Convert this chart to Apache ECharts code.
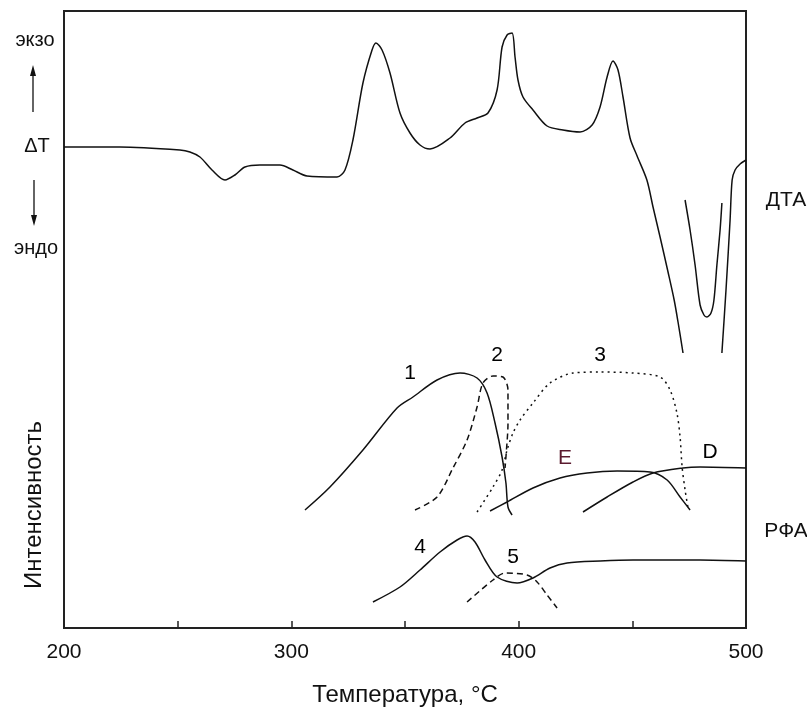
<!DOCTYPE html>
<html><head><meta charset="utf-8">
<script src="https://cdn.jsdelivr.net/npm/echarts@6/dist/echarts.min.js"></script>
<style>html,body{margin:0;padding:0;background:#fff}#c{width:807px;height:713px}</style>
</head><body><div id="c"></div>
<script>
// Temperature (°C), signal (arbitrary units)
const xTicks = [200, 300, 400, 500];
const dta1 = [[200,481],[224.6,481],[251,478],[255.4,476],[259.8,471],[265.1,458],[270.8,448],[275.2,453],[279.6,461],[286.2,463],[295,463],[300.7,458],[306.9,452],[320.1,451],[323.6,458],[327.1,488],[331.5,545],[335.5,578],[337.2,585],[339.9,578],[343.4,555],[347.8,515],[352.2,495],[356.6,483],[361,479],[369.8,490],[376.4,505],[381.7,510],[386.5,515],[390.5,538],[392.7,581],[394.9,593],[397.1,595],[398.4,571],[399.7,548],[401.9,531],[406.3,518],[412.5,502],[419.5,498],[427,496],[432.3,503],[435.8,521],[438.9,551],[441.5,567],[443.7,558],[445.9,531],[449,490],[452.1,472],[456.4,448],[459.1,421],[462.2,391],[465.7,356],[468.4,328],[470.1,306],[472.3,275]];
const dta2 = [[473.2,428],[475.4,398],[477.6,363],[479.8,323],[481.5,313],[482.8,311],[484.6,315],[485.9,328],[487.2,363],[488.6,398],[489.4,425]];
const dta3 = [[489.4,275],[491.2,338],[493,408],[493.9,448],[495.2,458],[497.4,464],[500,468]];
const c1 = [[306,118],[317,141],[331.5,178],[346.5,220],[353.5,231],[364.1,248],[374.2,255],[381.7,250],[386.1,235],[389.6,205],[392.7,171],[394.4,145],[395.3,121],[397.1,113]];
const c2 = [[354.4,118],[364.1,131],[371.1,160],[377.3,188],[381.7,221],[384.3,245],[388.7,252],[393.1,251],[395.3,238],[395.3,205],[394.4,171],[394,160]];
const c3 = [[381.7,116],[388.7,141],[392.7,158],[394.9,178],[397.5,195],[400.6,208],[406.3,225],[413.8,245],[423.9,255],[435.8,256],[450.3,255],[462.2,251],[466.6,238],[469.6,215],[471,191],[471.9,161],[473.2,138],[474.5,120]];
const cE = [[387.4,117],[394.9,126],[406.3,140],[418.2,150],[430.1,155],[443.3,157],[457.8,156],[465.3,148],[471,131],[475.4,118]];
const cD = [[428.3,116],[438.9,131],[450.3,146],[459.1,155],[472.3,160],[479.8,161],[500,160]];
const c4 = [[335.9,26],[347.8,41],[356.6,58],[365.4,76],[372.9,88],[377.3,92],[380.8,86],[385.2,68],[390.5,51],[399.3,45],[406.3,50],[413.8,60],[421.3,65],[435.8,67],[450.3,68],[479.8,68],[500,67]];
const c5 = [[377.3,26],[388.7,48],[394,55],[403.7,53],[408.1,46],[412.5,33],[416.9,20]];
const curveLabels = [
  {name:'1', value:[352.2,255]}, {name:'2', value:[390.5,273]}, {name:'3', value:[435.8,273]},
  {name:'E', value:[420.4,170], color:'#5a1a2e'}, {name:'D', value:[484.2,176]},
  {name:'4', value:[356.6,81]}, {name:'5', value:[397.5,71]}
];

const FONT = '"Liberation Sans", Arial, sans-serif';
const chart = echarts.init(document.getElementById('c'), null, {renderer:'canvas'});
function line(data, type) {
  return {type:'line', data, symbol:'none', smooth:0.3, animation:false,
    lineStyle:{color:'#111', width:1.5, type: type || 'solid'}};
}
chart.setOption({
  animation:false,
  grid:{left:64, right:61, top:11, bottom:85, show:true, borderColor:'#222', borderWidth:2, backgroundColor:'transparent'},
  xAxis:{type:'value', min:200, max:500, interval:50,
    axisLine:{show:true, lineStyle:{color:'#222', width:2}},
    axisTick:{show:true, inside:true, length:7, lineStyle:{color:'#222', width:1.5}},
    axisLabel:{margin:14, fontSize:21, color:'#111', fontFamily:FONT,
      formatter:v => xTicks.includes(v) ? String(v) : ''},
    splitLine:{show:false},
    name:'Температура, °C', nameLocation:'middle', nameGap:55,
    nameTextStyle:{fontSize:24, color:'#111', fontFamily:FONT}},
  yAxis:{type:'value', min:0, max:617, show:true,
    axisLine:{show:true, lineStyle:{color:'#222', width:2}},
    axisTick:{show:false}, axisLabel:{show:false}, splitLine:{show:false}},
  series:[
    line(dta1), line(dta2), line(dta3),
    line(c1), line(c2, [6,4]), line(c3, [2,4]), line(cE), line(cD),
    line(c4), line(c5, [6,4]),
    {type:'scatter', symbolSize:0, itemStyle:{opacity:1}, emphasis:{disabled:true},
      data:curveLabels.map(d => ({name:d.name, value:d.value,
      label:{color:d.color || '#000'}})),
      label:{show:true, position:'inside', formatter:p => p.name, fontSize:21, fontFamily:FONT, color:'#000', opacity:1}}
  ],
  graphic:[
    {type:'text', x:35, y:40, style:{text:'экзо', fontSize:20, fontFamily:FONT, fill:'#111', align:'center', verticalAlign:'middle'}},
    {type:'line', shape:{x1:33, y1:112, x2:33, y2:74}, style:{stroke:'#111', lineWidth:1.3}},
    {type:'polygon', shape:{points:[[33,65],[30,76],[36,76]]}, style:{fill:'#111'}},
    {type:'text', x:37, y:146, style:{text:'ΔT', fontSize:20, fontFamily:FONT, fill:'#111', align:'center', verticalAlign:'middle'}},
    {type:'line', shape:{x1:34, y1:180, x2:34, y2:216}, style:{stroke:'#111', lineWidth:1.3}},
    {type:'polygon', shape:{points:[[34,226],[31,215],[37,215]]}, style:{fill:'#111'}},
    {type:'text', x:36, y:248, style:{text:'эндо', fontSize:20, fontFamily:FONT, fill:'#111', align:'center', verticalAlign:'middle'}},
    {type:'text', x:34, y:505, rotation:Math.PI/2, style:{text:'Интенсивность', fontSize:24, fontFamily:FONT, fill:'#111', align:'center', verticalAlign:'middle'}},
    {type:'text', x:786, y:200, style:{text:'ДТА', fontSize:21, fontFamily:FONT, fill:'#111', align:'center', verticalAlign:'middle'}},
    {type:'text', x:786, y:531, style:{text:'РФА', fontSize:21, fontFamily:FONT, fill:'#111', align:'center', verticalAlign:'middle'}}
  ]
});
</script></body></html>
